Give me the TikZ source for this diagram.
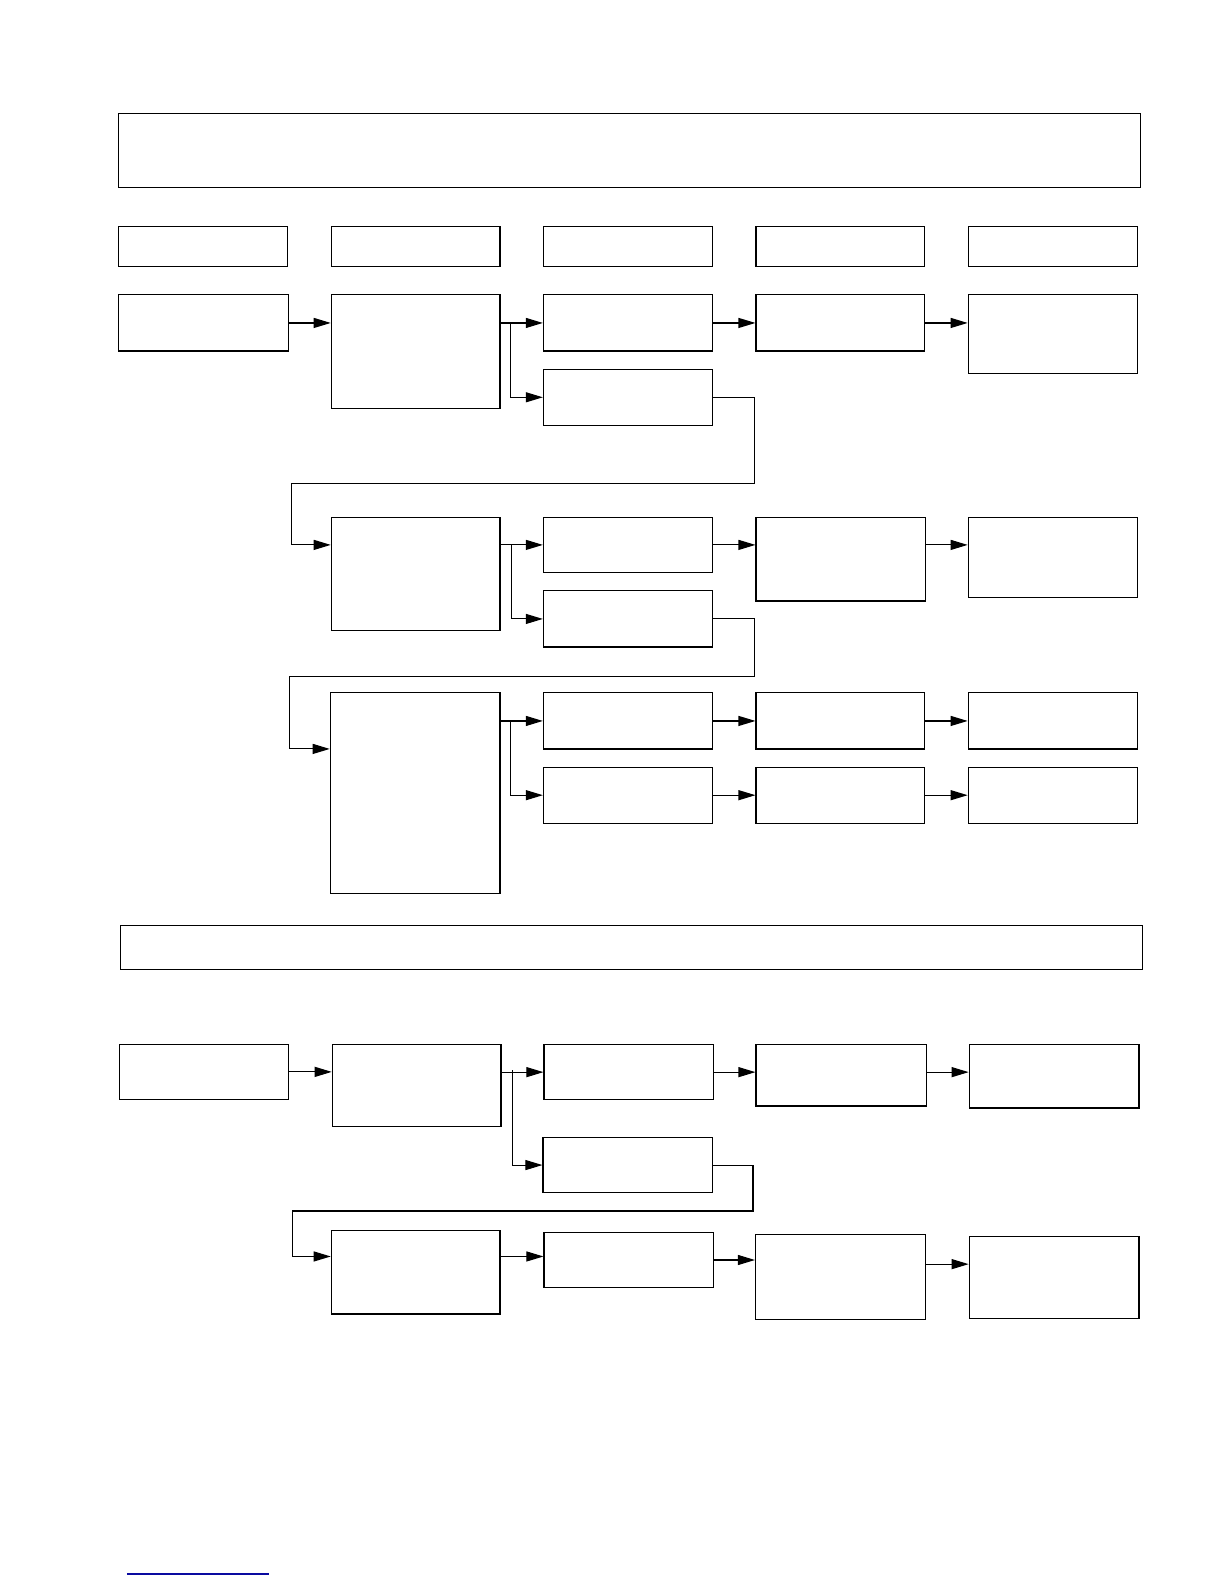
\documentclass[tikz,border=0pt]{standalone}
\usetikzlibrary{fit,arrows.meta}
\tikzset{
  box/.style={draw=black, line width=1.1pt, inner sep=0pt, fill=white},
  conn/.style={draw=black, line width=1.1pt},
  arr/.style={conn, -{Triangle[length=17pt,width=10pt]}},
}
\newcommand{\bx}[5]{\node[box, fit={(#2,#3) (#4,#5)}] (#1) {};}
\begin{document}
\begin{tikzpicture}[x=1.01pt, y=-1.01pt]
\useasboundingbox (0,0) rectangle (1211.9,1568.3);
% top banner and header row
\bx{T}{117}{112}{1129}{186}
\bx{H1}{117}{224}{285}{264}
\bx{H2}{328}{224}{495}{264}
\bx{H3}{538}{224}{705}{264}
\bx{H4}{748.5}{224}{915}{264}
\bx{H5}{959}{224}{1126}{264}
% row 1
\bx{A1}{117}{292}{285.5}{347.5}
\bx{B1}{328}{292}{495}{404}
\bx{C1}{538}{292}{705}{347.5}
\bx{D1}{748.5}{292}{915}{347.5}
\bx{E1}{958.6}{292}{1126.5}{369.6}
\bx{C1b}{538}{365.7}{705}{421}
% row 2
\bx{B2}{328}{512}{495}{624}
\bx{C2}{538}{512}{705}{567}
\bx{D2}{748.5}{512}{916}{595}
\bx{E2}{958.6}{512}{1126.5}{592}
\bx{C2b}{538}{585}{705}{640.6}
% row 3
\bx{B3}{327}{686}{495}{885}
\bx{C3}{538}{686}{705}{741.6}
\bx{D3}{748.5}{686}{915}{741.6}
\bx{E3}{958.6}{686}{1126.5}{741.6}
\bx{C3b}{538}{759.6}{705}{815}
\bx{D3b}{748.5}{759.6}{915}{815}
\bx{E3b}{958.6}{759.6}{1126.5}{815}
% second banner
\bx{T2}{119}{916}{1131}{960}
% row 4
\bx{A4}{118}{1034}{286}{1088.5}
\bx{B4}{329}{1034}{496}{1115.5}
\bx{C4}{538.6}{1034}{706}{1089}
\bx{D4}{748.5}{1034}{917}{1095}
\bx{E4}{959.6}{1034}{1127.7}{1097}
\bx{C4b}{537.6}{1126}{705}{1181}
% row 5
\bx{B5}{328}{1218}{495}{1301}
\bx{C5}{538.6}{1220}{706}{1275}
\bx{D5}{748}{1222}{916.6}{1306}
\bx{E5}{959.6}{1224}{1127.7}{1305}
% helper coordinates
\coordinate (br1) at (505.5,0);
\coordinate (br2) at (506,0);
\coordinate (br3) at (505.5,0);
\coordinate (br4top) at (507,1059.5);
\coordinate (r1a) at (747,479);
\coordinate (r1b) at (288.5,479);
\coordinate (r2a) at (747,670);
\coordinate (r2b) at (286.5,670);
\coordinate (r4a) at (745.5,1199);
\coordinate (r4b) at (289.5,1199);
\coordinate (y741) at (0,741.5);
\coordinate (y1244) at (0,1244);
\coordinate (y1251) at (0,1251.6);
\coordinate (bl1) at (125.7,1558.4);
\coordinate (bl2) at (266.3,1558.4);
% row 1 connectors
\draw[arr] (A1.east) -- (A1.east -| B1.west);
\draw[arr] (B1.east |- C1.west) -- (C1.west);
\draw[arr] (br1 |- C1.west) |- (C1b.west);
\draw[arr] (C1.east) -- (D1.west);
\draw[arr] (D1.east) -- (D1.east -| E1.west);
\draw[arr] (C1b.east) -| (r1a) -- (r1b) |- (C2.west -| B2.west);
% row 2 connectors
\draw[arr] (B2.east |- C2.west) -- (C2.west);
\draw[arr] (br2 |- C2.west) |- (C2b.west);
\draw[arr] (C2.east) -- (C2.east -| D2.west);
\draw[arr] (D2.east |- C2.east) -- (C2.east -| E2.west);
\draw[arr] (C2b.east) -| (r2a) -- (r2b) |- (B3.west |- y741);
% row 3 connectors
\draw[arr] (B3.east |- C3.west) -- (C3.west);
\draw[arr] (br3 |- C3.west) |- (C3b.west);
\draw[arr] (C3.east) -- (D3.west);
\draw[arr] (D3.east) -- (E3.west);
\draw[arr] (C3b.east) -- (D3b.west);
\draw[arr] (D3b.east) -- (E3b.west);
% row 4 connectors
\draw[arr] (A4.east) -- (A4.east -| B4.west);
\draw[arr] (B4.east |- C4.west) -- (C4.west);
\draw[arr] (br4top) |- (C4b.west);
\draw[arr] (C4.east) -- (C4.east -| D4.west);
\draw[arr] (D4.east |- C4.east) -- (C4.east -| E4.west);
\draw[arr] (C4b.east) -| (r4a) -- (r4b) |- (B5.west |- y1244);
% row 5 connectors
\draw[arr] (B5.east |- y1244) -- (C5.west |- y1244);
\draw[arr] (C5.east) -- (C5.east -| D5.west);
\draw[arr] (D5.east |- y1251) -- (E5.west |- y1251);
% bottom blue rule
\draw[draw={rgb,255:red,10;green,10;blue,160}, line width=1.2pt] (bl1) -- (bl2);
\end{tikzpicture}
\end{document}
